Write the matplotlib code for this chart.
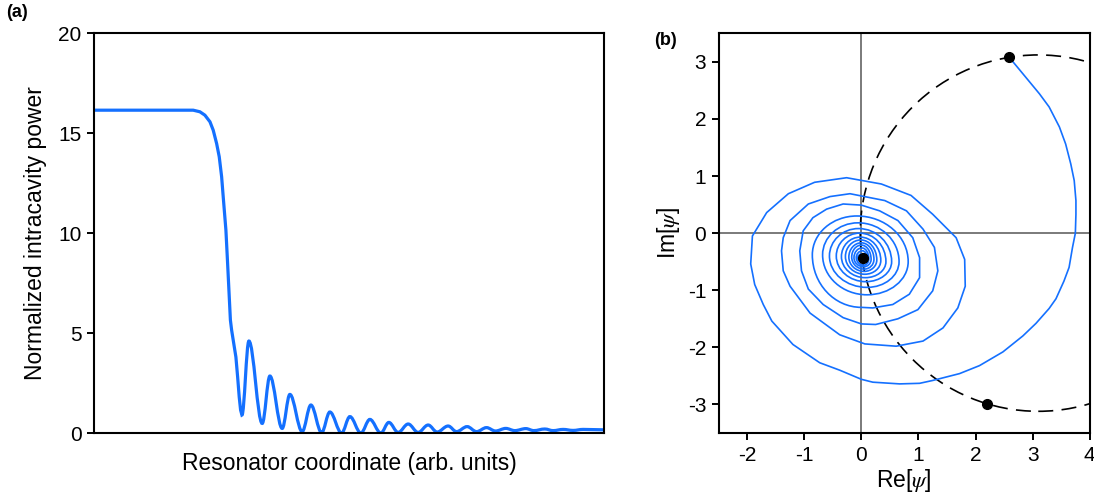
import matplotlib
matplotlib.use("Agg")
import matplotlib.pyplot as plt
from matplotlib.path import Path
from matplotlib.patches import PathPatch, Circle

plt.rcParams["font.family"] = ["Liberation Sans", "DejaVu Sans"]
plt.rcParams["mathtext.fontset"] = "stix"
plt.rcParams["axes.unicode_minus"] = False

BLUE = "#1470ff"

# ---- panel (a): intracavity power along the resonator (arb. x units 0..100)
drop_x = [0.0, 19.47, 20.78, 21.76, 22.75, 23.39, 24.06, 24.57, 25.04, 25.35,
          25.88, 26.18, 26.47, 26.76, 27.0, 27.31, 27.84, 28.18, 28.49, 28.76]
drop_y = [16.15, 16.15, 16.07, 15.9, 15.57, 15.15, 14.48, 13.82, 12.82, 11.82,
          10.15, 8.65, 7.15, 5.65, 5.15, 4.65, 3.8, 2.8, 1.8, 1.15]
# alternating minima / maxima of the ripple tail
ripple_x = [29.02, 30.39, 33.0, 34.51, 36.92, 38.43, 40.84, 42.55, 44.65, 46.27,
            48.57, 50.2, 52.35, 54.12, 56.27, 57.84, 59.67, 61.63, 63.59, 65.55,
            67.31, 69.47, 71.12, 73.2, 75.04, 77.0, 78.76, 80.78, 82.55, 84.71,
            86.27, 88.43, 90.06, 92.02, 93.98, 95.94, 100.0]
ripple_y = [0.9, 4.6, 0.48, 2.85, 0.23, 1.93, 0.07, 1.4, 0.02, 1.05,
            0.0, 0.82, 0.0, 0.68, 0.0, 0.53, 0.03, 0.45, 0.03, 0.40,
            0.05, 0.35, 0.07, 0.32, 0.07, 0.27, 0.10, 0.23, 0.12, 0.22,
            0.12, 0.20, 0.12, 0.18, 0.13, 0.18, 0.16]

# ---- panel (b): field trajectory in the complex plane
outer_re = [2.59, 2.88, 3.12, 3.29, 3.47, 3.58, 3.67, 3.73, 3.76, 3.76, 3.75, 3.70,
            3.64, 3.55, 3.41, 3.29, 3.06, 2.83, 2.48, 2.07,
            1.72, 1.25, 1.02, 0.67, 0.20, 0.0, -0.38, -0.73, -1.20, -1.57, -1.72,
            -1.87, -1.94, -1.91, -1.66, -1.28, -0.82, -0.26, 0.35, 0.87, 1.25, 1.54,
            1.66, 1.81, 1.82, 1.69, 1.43, 1.08, 0.61, 0.06, -0.38, -0.90, -1.25,
            -1.37, -1.40, -1.37, -1.25, -0.93, -0.55, -0.20, 0.41, 0.79, 1.08, 1.28,
            1.34, 1.25, 0.99, 0.64, 0.25, 0.0, -0.32, -0.67, -0.93, -1.05, -1.08,
            -1.02, -0.85, -0.61, -0.32, 0.0, 0.32, 0.64, 0.90, 1.02, 1.02, 0.84,
            0.55, 0.20, 0.0]
outer_im = [3.08, 2.73, 2.44, 2.21, 1.86, 1.56, 1.21, 0.92, 0.57, 0.33, 0.0, -0.25,
            -0.60, -0.84, -1.15, -1.32, -1.58, -1.80, -2.08, -2.32,
            -2.46, -2.58, -2.63, -2.64, -2.61, -2.56, -2.40, -2.27, -1.95, -1.54, -1.25,
            -0.90, -0.54, -0.05, 0.36, 0.69, 0.89, 0.97, 0.86, 0.66, 0.33, 0.04,
            -0.08, -0.46, -0.93, -1.31, -1.66, -1.89, -1.98, -1.94, -1.78, -1.40, -0.93,
            -0.66, -0.31, -0.08, 0.22, 0.51, 0.64, 0.69, 0.57, 0.39, 0.07, -0.25,
            -0.66, -1.01, -1.34, -1.50, -1.60, -1.59, -1.48, -1.25, -0.98, -0.66, -0.31,
            0.04, 0.27, 0.42, 0.51, 0.49, 0.39, 0.22, -0.08, -0.43, -0.78, -1.07,
            -1.25, -1.31, -1.30]
# inner windings: left, top, right, bottom turning points of each turn
inner_re = [-0.86, -0.08, 0.82, 0.10, -0.68, -0.06, 0.66, 0.10, -0.56, -0.05, 0.53, 0.08,
            -0.44, -0.03, 0.43, 0.07, -0.35, -0.02, 0.34, 0.06, -0.28, -0.01, 0.27, 0.05,
            -0.22, 0.0, 0.22, 0.05, -0.17, 0.0, 0.17, 0.04, -0.13, 0.01, 0.13, 0.04,
            -0.09, 0.02, 0.10, 0.04, -0.06, 0.02, 0.08, 0.03, -0.03, 0.02, 0.06, 0.03]
inner_im = [-0.38, 0.30, -0.50, -1.08, -0.38, 0.18, -0.50, -0.95, -0.40, 0.08, -0.50, -0.85,
            -0.40, 0.0, -0.50, -0.78, -0.41, -0.07, -0.48, -0.72, -0.41, -0.12, -0.47, -0.67,
            -0.42, -0.17, -0.46, -0.63, -0.42, -0.21, -0.46, -0.59, -0.43, -0.26, -0.45, -0.56,
            -0.43, -0.31, -0.45, -0.52, -0.43, -0.36, -0.45, -0.49, -0.43, -0.40, -0.45, -0.46]
circle_center = (3.1, 0.0)
circle_radius = 3.12
dots_re = [2.59, 2.20, 0.03]
dots_im = [3.08, -3.00, -0.44]


def ripple_path(x0, y0, xs, ys, k=0.36):
    # polyline for the drop, then smooth bezier between turning points
    verts = list(zip(x0, y0))
    codes = [Path.MOVETO] + [Path.LINETO] * (len(x0) - 1)
    verts.append((xs[0], ys[0]))
    codes.append(Path.LINETO)
    for i in range(1, len(xs)):
        dx = xs[i] - xs[i - 1]
        verts += [(xs[i - 1] + k * dx, ys[i - 1]), (xs[i] - k * dx, ys[i]), (xs[i], ys[i])]
        codes += [Path.CURVE4] * 3
    return Path(verts, codes)


def spiral_path(re0, im0, re1, im1, k=0.5523):
    verts = list(zip(re0, im0))
    codes = [Path.MOVETO] + [Path.LINETO] * (len(re0) - 1)
    px, py = re0[-1], im0[-1]
    horiz = True  # last outer point is a bottom turning point
    for x, y in zip(re1, im1):
        if horiz:
            c1 = (px + k * (x - px), py)
            c2 = (x, y + k * (py - y))
        else:
            c1 = (px, py + k * (y - py))
            c2 = (x + k * (px - x), y)
        verts += [c1, c2, (x, y)]
        codes += [Path.CURVE4] * 3
        px, py = x, y
        horiz = not horiz
    return Path(verts, codes)


fig = plt.figure(figsize=(10.94, 4.96), dpi=100)
ax1 = fig.add_axes([0.0859, 0.127, 0.466, 0.806])
ax2 = fig.add_axes([0.657, 0.127, 0.339, 0.806])

# (a)
ax1.add_patch(PathPatch(ripple_path(drop_x, drop_y, ripple_x, ripple_y),
                        facecolor="none", edgecolor=BLUE, lw=2.3, capstyle="round"))
ax1.set_xlim(0, 100)
ax1.set_ylim(0, 20)
ax1.set_xticks([])
ax1.set_yticks([0, 5, 10, 15, 20])
ax1.set_xlabel("Resonator coordinate (arb. units)", fontsize=16.5, labelpad=14)
ax1.set_ylabel("Normalized intracavity power", fontsize=16.5, labelpad=8)

# (b)
ax2.axhline(0, color="#707070", lw=1.3, zorder=1)
ax2.axvline(0, color="#707070", lw=1.3, zorder=1)
ax2.add_patch(Circle(circle_center, circle_radius, fill=False, color="black",
                     lw=1.2, linestyle=(0, (9, 5)), zorder=2))
ax2.add_patch(PathPatch(spiral_path(outer_re, outer_im, inner_re, inner_im),
                        facecolor="none", edgecolor=BLUE, lw=1.2, zorder=3))
ax2.plot(dots_re, dots_im, "o", color="black", ms=7, zorder=4)
ax2.set_xlim(-2.5, 4)
ax2.set_ylim(-3.5, 3.5)
ax2.set_xticks([-2, -1, 0, 1, 2, 3, 4])
ax2.set_yticks([-3, -2, -1, 0, 1, 2, 3])
ax2.set_xlabel(r"Re[$\psi$]", fontsize=16.5, labelpad=2)
ax2.set_ylabel(r"Im[$\psi$]", fontsize=16.5, labelpad=4)

for ax in (ax1, ax2):
    ax.tick_params(direction="out", length=5, width=1.4, labelsize=15, pad=4)
    for s in ax.spines.values():
        s.set_linewidth(1.5)

fig.text(0.006, 0.965, "(a)", fontsize=13, fontweight="bold")
fig.text(0.598, 0.91, "(b)", fontsize=13, fontweight="bold")

fig.savefig("out.png", dpi=100)
